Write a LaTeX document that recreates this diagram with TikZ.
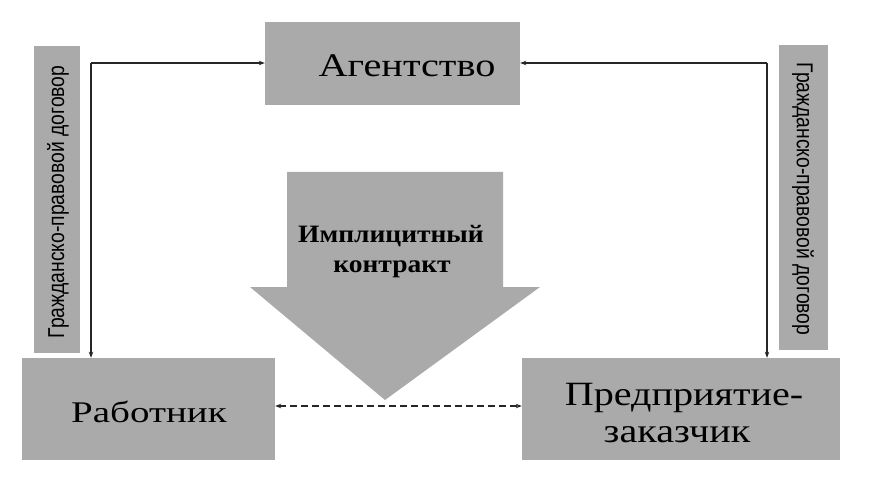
\documentclass[tikz,border=0pt]{standalone}
\usepackage{fontspec}
\setmainfont{Liberation Serif}
\newfontfamily\narrowsans[FakeStretch=0.84]{Liberation Sans}
\newfontfamily\serifA[FakeStretch=1.22]{Liberation Serif}
\newfontfamily\serifR[FakeStretch=1.3]{Liberation Serif}
\newfontfamily\serifP[FakeStretch=1.18]{Liberation Serif}
\newfontfamily\serifI[FakeStretch=1.1]{Liberation Serif}
\usetikzlibrary{arrows.meta}
\definecolor{boxgray}{RGB}{170,170,170}
\tikzset{
  gbox/.style={fill=boxgray, draw=none, inner sep=0pt},
  conn/.style={draw=black!85, line width=1.1pt, -{Stealth[length=6pt,width=4.5pt]}},
  dconn/.style={draw=black!85, line width=1.4pt, dash pattern=on 7pt off 4pt, {Stealth[length=6pt,width=4.5pt]}-{Stealth[length=6pt,width=4.5pt]}}
}
\begin{document}
\begin{tikzpicture}[x=1pt,y=-1pt]
\useasboundingbox (0,0) rectangle (877,494);
% boxes
\node[gbox, minimum width=255pt, minimum height=83pt] (ag) at (392.5,63.5) {};
\node[font=\serifA\fontsize{33}{36}\selectfont, anchor=base] (agt) at (407,77) {Агентство};
\node[gbox, minimum width=253pt, minimum height=102pt] (rab) at (148.5,409) {};
\node[font=\serifR\fontsize{30}{34}\selectfont, anchor=base] (rabt) at (149,422) {Работник};
\node[gbox, minimum width=318pt, minimum height=102pt] (pred) at (681,409) {};
\node[font=\serifP\fontsize{34}{37}\selectfont, anchor=base] (predt1) at (684,405) {Предприятие-};
\node[font=\serifP\fontsize{34}{37}\selectfont, anchor=base] (predt2) at (677,442) {заказчик};
% side labels
\node[gbox, minimum width=46pt, minimum height=307pt] (ll) at (57,199.5) {};
\node[rotate=90, font=\narrowsans\fontsize{23}{26}\selectfont] (llt) at (58,202) {Гражданско-правовой договор};
\node[gbox, minimum width=49pt, minimum height=305pt] (rl) at (803.5,197.5) {};
\node[rotate=-90, font=\narrowsans\fontsize{23}{26}\selectfont] (rlt) at (803,199) {Гражданско-правовой договор};
% big arrow
\fill[boxgray] (287,172) -- (503,172) -- (503,287) -- (540,287) -- (385,400) -- (250,287) -- (287,287) -- cycle;
\node[font=\serifI\bfseries\fontsize{25}{30}\selectfont, anchor=base] (imp1) at (391,242) {Имплицитный};
\node[font=\serifI\bfseries\fontsize{25}{30}\selectfont, anchor=base] (imp2) at (392,272) {контракт};
% connectors
\coordinate (lc) at (91,63);
\coordinate (rc) at (767,63);
\draw[conn] (lc) -- (ag.west |- lc);
\draw[conn] (lc) -- (lc |- rab.north);
\draw[conn] (rc) -- (ag.east |- rc);
\draw[conn] (rc) -- (rc |- pred.north);
\draw[dconn] ([yshift=3pt]rab.east) -- ([yshift=3pt]pred.west);
\end{tikzpicture}
\end{document}
